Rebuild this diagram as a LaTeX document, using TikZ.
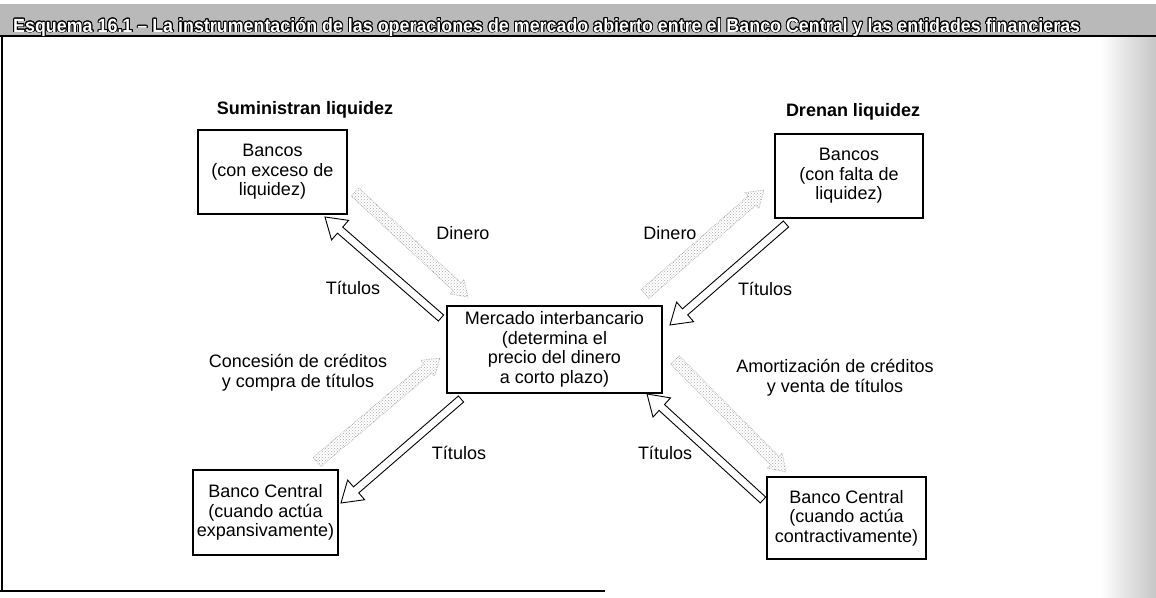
\documentclass[tikz,border=0pt]{standalone}
\usepackage{fontspec}
\setmainfont{Liberation Sans}
\usepackage{contour}
\contourlength{0.5pt}
\usetikzlibrary{calc,patterns}
\newcommand{\blockarr}[6][]{%
  \coordinate (ba-base) at ($(#3)!#6!(#2)$);
  \draw[#1] ($(#2)!#4!90:(#3)$) -- ($(ba-base)!#4!-90:(#2)$) -- ($(ba-base)!#5!-90:(#2)$) -- (#3)
    -- ($(ba-base)!#5!90:(#2)$) -- ($(ba-base)!#4!90:(#2)$) -- ($(#2)!#4!-90:(#3)$) -- cycle;
}
\begin{document}
\begin{tikzpicture}[x=1pt,y=-1pt,
  txt/.style={font=\fontsize{18}{19.5}\selectfont, align=center, inner sep=0pt},
  hdr/.style={font=\fontsize{18}{19.5}\selectfont\bfseries, inner sep=0pt},
  box/.style={txt, draw, line width=1.1pt},
  hollow/.style={draw=black, fill=white, line width=0.9pt, line join=miter},
  money/.style={draw=gray!65, densely dotted, line width=0.7pt, pattern=crosshatch dots, pattern color=gray!65}]
\useasboundingbox (0,0) rectangle (1156,597);
% scan edge and title bar
\shade[left color=white, right color=gray!45] (1100,37) rectangle (1156,597);
\fill[gray!55] (0,4) rectangle (1156,36);
\draw[line width=1.5pt] (0,36) -- (1156,36);
\draw[line width=1.5pt] (2,36) -- (2,591);
\draw[line width=1.5pt] (0,591) -- (605,591);
\node[anchor=base west, inner sep=0pt] (title) at (13,32) {\resizebox{1067pt}{14pt}{\contour{black}{\textcolor{white}{\bfseries Esquema 16.1 -- La instrumentación de las operaciones de mercado abierto entre el Banco Central y las entidades financieras}}}};
% headers
\node[hdr] (sum) at (305,110) {Suministran liquidez};
\node[hdr] (dre) at (853,112) {Drenan liquidez};
% boxes
\node[box, minimum width=149pt, minimum height=84pt] (bex) at (272.5,172) {Bancos\\(con exceso de\\liquidez)};
\node[box, minimum width=148pt, minimum height=84pt] (bfa) at (849,176) {Bancos\\(con falta de\\liquidez)};
\node[box, minimum width=215pt, minimum height=87pt] (mer) at (554.5,349.5) {Mercado interbancario\\(determina el\\precio del dinero\\a corto plazo)};
\node[box, minimum width=145pt, minimum height=85pt] (bce) at (265.5,512.5) {Banco Central\\(cuando actúa\\expansivamente)};
\node[box, minimum width=159pt, minimum height=82pt] (bcc) at (846.5,518) {Banco Central\\(cuando actúa\\contractivamente)};
% labels
\node[txt] (l1) at (463,233) {Dinero};
\node[txt] (l2) at (353,288) {Títulos};
\node[txt] (l3) at (670,233) {Dinero};
\node[txt] (l4) at (765,289) {Títulos};
\node[txt] (l5) at (298,372.5) {Concesión de créditos\\y compra de títulos};
\node[txt] (l6) at (459,453) {Títulos};
\node[txt] (l7) at (835,377.5) {Amortización de créditos\\y venta de títulos};
\node[txt] (l8) at (665,453) {Títulos};
% connector end points
\coordinate (ulT) at (441,318); \coordinate (ulH) at (325,217);
\coordinate (urT) at (786,224); \coordinate (urH) at (670,325);
\coordinate (llT) at (461,399); \coordinate (llH) at (341,503);
\coordinate (lrT) at (763,500); \coordinate (lrH) at (647,394);
\coordinate (d1T) at (355,192); \coordinate (d1H) at (468,297);
\coordinate (d2T) at (645,294); \coordinate (d2H) at (764,190);
\coordinate (d3T) at (317,462); \coordinate (d3H) at (440,358);
\coordinate (d4T) at (675,360); \coordinate (d4H) at (786,472);
% money flows (stippled)
\blockarr[money]{d1T}{d1H}{5.5pt}{10pt}{15pt}
\blockarr[money]{d2T}{d2H}{6pt}{10.5pt}{16pt}
\blockarr[money]{d3T}{d3H}{6pt}{10.5pt}{16pt}
\blockarr[money]{d4T}{d4H}{6pt}{10.5pt}{16pt}
% securities flows (hollow arrows)
\blockarr[hollow]{ulT}{ulH}{4pt}{13pt}{20pt}
\blockarr[hollow]{urT}{urH}{4pt}{13pt}{20pt}
\blockarr[hollow]{llT}{llH}{4pt}{13pt}{20pt}
\blockarr[hollow]{lrT}{lrH}{4pt}{13pt}{20pt}
\end{tikzpicture}
\end{document}
